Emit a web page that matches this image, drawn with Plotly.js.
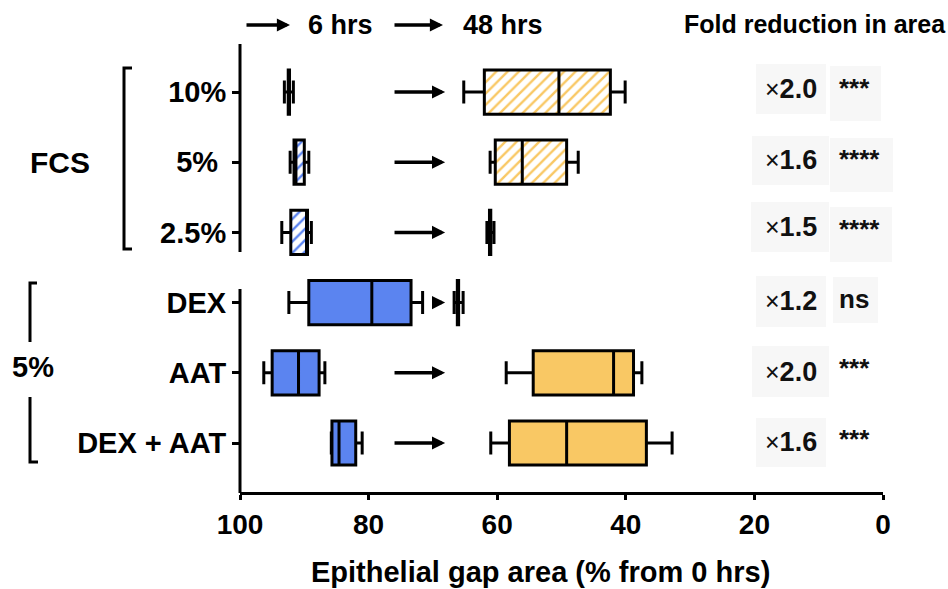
<!DOCTYPE html>
<html>
<head>
<meta charset="utf-8">
<script src="https://cdn.plot.ly/plotly-3.0.1.min.js"></script>
<style>html,body{margin:0;padding:0;background:#fff;}#chart{width:948px;height:589px;}</style>
</head>
<body>
<div id="chart"></div>
<script>
// ---------- data ----------
const categories = ['10%', '5%', '2.5%', 'DEX', 'AAT', 'DEX + AAT'];
const tickLabels = ['10%', '5%\u00a0', '2.5%', 'DEX', 'AAT', 'DEX + AAT'];
const hatchedRows = [true, true, true, false, false, false];   // FCS group

// 6 hrs
const h6Low    = [91.7, 89.3, 88.9, 71.6, 86.8, 81.0];
const h6Q1     = [92.3, 90.0, 89.5, 73.4, 87.7, 82.0];
const h6Median = [92.4, 91.3, 89.6, 79.5, 90.9, 84.6];
const h6Q3     = [92.5, 91.6, 92.1, 89.3, 95.0, 85.7];
const h6High   = [93.1, 92.2, 93.5, 92.4, 96.3, 85.8];

// 48 hrs
const h48Low    = [40.1, 47.4, 60.5, 65.3, 37.5, 32.8];
const h48Q1     = [42.4, 49.2, 61.0, 66.0, 38.8, 36.8];
const h48Median = [50.4, 56.1, 61.1, 66.1, 41.9, 49.2];
const h48Q3     = [62.0, 60.3, 61.2, 66.2, 54.4, 58.1];
const h48High   = [65.2, 61.1, 61.6, 66.7, 58.6, 61.0];

const foldReduction = ['2.0', '1.6', '1.5', '1.2', '2.0', '1.6'];
const significance  = ['***', '****', '****', 'ns', '***', '***'];
const xTicks = [100, 80, 60, 40, 20, 0];

// ---------- style ----------
const BLUE = '#5b84f0';
const ORANGE = '#f9c864';
const GRAY = '#f7f7f7';
const FONT = 'Liberation Sans, Arial, Helvetica, sans-serif';
const BOXW = 0.63;

// plot area in pixels: x 240..883, y 45..492
const L = 240, R = 883, T = 45, B = 492;
const PX = px => (px - L) / (R - L);
const PY = py => (B - py) / (B - T);

function pick(arr, mask, want) { return arr.filter((_, i) => mask[i] === want); }

const traces = [];
function addSeries(low, q1, med, q3, high, color) {
  // hatched background for FCS rows
  const hy = pick(categories, hatchedRows, true);
  const hq1 = pick(q1, hatchedRows, true);
  const hq3 = pick(q3, hatchedRows, true);
  traces.push({
    type: 'bar', orientation: 'h', y: hy, base: hq1,
    x: hq1.map((v, i) => hq3[i] - v), width: BOXW,
    marker: { color: 'white', line: { width: 0 },
      pattern: { shape: '/', fgcolor: color, bgcolor: 'white', size: 8, solidity: 0.3 } },
    hoverinfo: 'skip', showlegend: false
  });
  [true, false].forEach(h => {
    traces.push({
      type: 'box', orientation: 'h',
      y: pick(categories, hatchedRows, h),
      lowerfence: pick(low, hatchedRows, h),
      q1: pick(q1, hatchedRows, h),
      median: pick(med, hatchedRows, h),
      q3: pick(q3, hatchedRows, h),
      upperfence: pick(high, hatchedRows, h),
      boxpoints: false, width: BOXW, whiskerwidth: 0.52,
      fillcolor: h ? 'rgba(0,0,0,0)' : color,
      line: { color: 'black', width: 3 },
      hoverinfo: 'skip', showlegend: false
    });
  });
}
addSeries(h6Low, h6Q1, h6Median, h6Q3, h6High, BLUE);
addSeries(h48Low, h48Q1, h48Median, h48Q3, h48High, ORANGE);

// ---------- decorations ----------
const shapes = [];
const line = { color: 'black', width: 3 };
// broken y axis
shapes.push({ type: 'line', xref: 'paper', yref: 'paper', x0: 0, x1: 0, y0: PY(44), y1: PY(252), line });
shapes.push({ type: 'line', xref: 'paper', yref: 'paper', x0: 0, x1: 0, y0: PY(289), y1: PY(493), line });
// brackets
function path(pts) { return pts.map((p, i) => (i ? 'L' : 'M') + PX(p[0]) + ',' + PY(p[1])).join(' '); }
shapes.push({ type: 'path', xref: 'paper', yref: 'paper', path: path([[132, 68], [124, 68], [124, 249], [132, 249]]), line });
shapes.push({ type: 'path', xref: 'paper', yref: 'paper', path: path([[37, 283], [30, 283], [30, 342]]), line });
shapes.push({ type: 'path', xref: 'paper', yref: 'paper', path: path([[30, 397], [30, 462], [38, 462]]), line });

// fold-reduction grey boxes
const foldBoxes = [[756, 64, 826, 114], [752, 136, 829, 185], [751, 202, 829, 252],
                   [756, 276, 826, 327], [752, 346, 829, 397], [756, 418, 826, 467]];
const sigBoxes = [[830, 66, 881, 121], [830, 138, 893, 192], [830, 207, 892, 262], [833, 277, 878, 323], null, null];
foldBoxes.concat(sigBoxes).forEach(b => {
  if (!b) return;
  shapes.push({ type: 'rect', xref: 'paper', yref: 'paper', layer: 'below',
    x0: PX(b[0]), x1: PX(b[2]), y0: PY(b[3]), y1: PY(b[1]), fillcolor: GRAY, line: { width: 0 } });
});

const annotations = [];
const foldY = [89, 160, 227, 301, 372, 442];
const sigY  = [88, 159, 229, 299, 368, 439];
foldReduction.forEach((f, i) => {
  annotations.push({ xref: 'paper', yref: 'paper', x: PX(791), y: PY(foldY[i]), xanchor: 'center', yanchor: 'middle',
    showarrow: false, font: { family: FONT, size: 27, color: '#111' },
    text: '<span style="font-size:25px;font-weight:normal">\u00d7</span><b>' + f + '</b>' });
});
significance.forEach((s, i) => {
  annotations.push({ xref: 'paper', yref: 'paper', x: PX(837), y: PY(sigY[i]), xanchor: 'left', yanchor: 'middle',
    showarrow: false, font: { family: FONT, size: 26, color: '#111', weight: 'bold' }, text: s });
});
// arrows between timepoints
categories.forEach((c, i) => {
  annotations.push({ xref: 'x', yref: 'y', axref: 'x', ayref: 'y', x: 68.1, y: c,
    ax: (c === 'DEX' ? 70.1 : 76.2), ay: c, text: '', showarrow: true,
    arrowhead: 2, arrowsize: 0.75, arrowwidth: 3.5, arrowcolor: 'black', standoff: 0 });
});
// header
function headerArrow(x0, x1) {
  annotations.push({ xref: 'paper', yref: 'paper', x: PX(x1), y: PY(25), ax: x0 - x1, ay: 0, text: '',
    showarrow: true, arrowhead: 2, arrowsize: 0.75, arrowwidth: 3.5, arrowcolor: 'black', standoff: 0 });
}
headerArrow(245, 290);
headerArrow(393, 443);
function label(text, px, py, size, anchor) {
  annotations.push({ xref: 'paper', yref: 'paper', x: PX(px), y: PY(py), xanchor: anchor || 'center', yanchor: 'middle',
    showarrow: false, text: text, font: { family: FONT, size: size, color: 'black', weight: 'bold' } });
}
label('6 hrs', 340, 25, 27);
label('48 hrs', 503, 25, 27);
label('Fold reduction in area', 815, 24, 25);
label('FCS', 60, 162, 30);
label('5%', 33, 367, 29);
label('Epithelial gap area (% from 0 hrs)', 540, 572, 29);

const layout = {
  width: 948, height: 589,
  margin: { l: L, r: 948 - R, t: T, b: 589 - B, pad: 0 },
  paper_bgcolor: 'white', plot_bgcolor: 'white',
  showlegend: false, boxmode: 'overlay', barmode: 'overlay',
  font: { family: FONT, color: 'black' },
  xaxis: {
    range: [100, 0], tickvals: xTicks, ticktext: xTicks.map(String),
    showgrid: false, zeroline: false, showline: true, linecolor: 'black', linewidth: 3,
    ticks: 'outside', ticklen: 5, tickwidth: 3, tickcolor: 'black',
    tickfont: { family: FONT, size: 28, color: 'black', weight: 'bold' }
  },
  yaxis: {
    type: 'category', categoryorder: 'array', categoryarray: categories,
    range: [5.698, -0.67], tickvals: categories, ticktext: tickLabels,
    showgrid: false, zeroline: false, showline: false,
    ticks: 'outside', ticklen: 7, tickwidth: 3, tickcolor: 'black',
    tickfont: { family: FONT, size: 29, color: 'black', weight: 'bold' }
  },
  shapes: shapes,
  annotations: annotations
};

Plotly.newPlot('chart', traces, layout, { displayModeBar: false, staticPlot: true });
</script>
</body>
</html>
